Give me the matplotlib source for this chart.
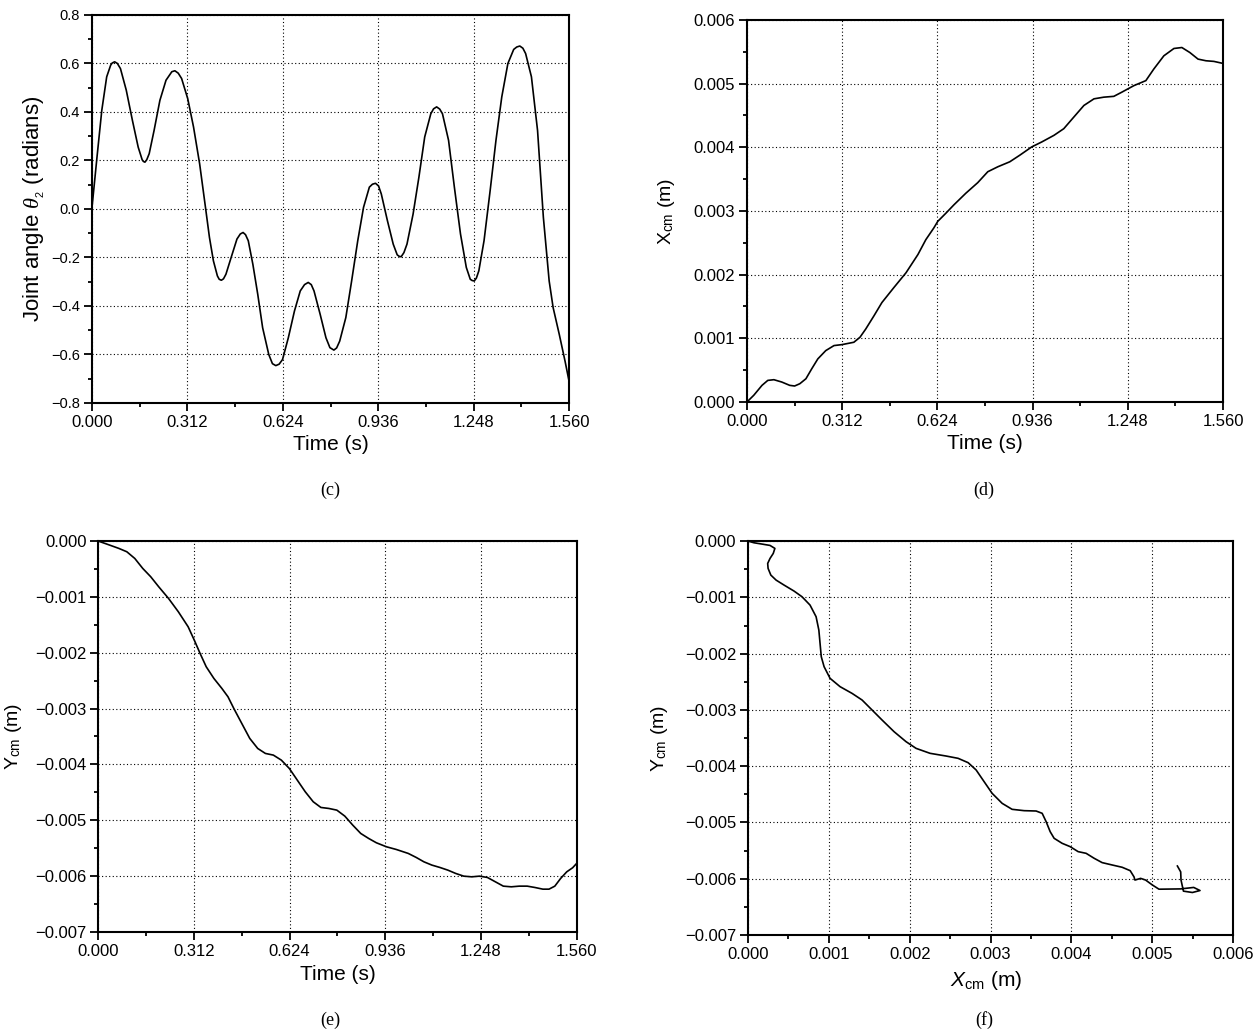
import numpy as np
import matplotlib
matplotlib.use('Agg')
import matplotlib.pyplot as plt
from matplotlib.ticker import MultipleLocator, FuncFormatter

plt.rcParams['font.family'] = ['Liberation Sans', 'DejaVu Sans']
plt.rcParams['mathtext.fontset'] = 'custom'
plt.rcParams['mathtext.rm'] = 'Liberation Sans'
plt.rcParams['mathtext.it'] = 'Liberation Serif:italic'
plt.rcParams['mathtext.sf'] = 'Liberation Sans:italic'

# (c) joint angle theta2 vs time
t_c = [0.000, 0.016, 0.032, 0.048, 0.061, 0.066, 0.074, 0.083, 0.093, 0.112,
       0.132, 0.151, 0.164, 0.168, 0.173, 0.179, 0.187, 0.203, 0.222, 0.242,
       0.261, 0.271, 0.282, 0.293, 0.313, 0.332, 0.352, 0.371, 0.384, 0.397,
       0.410, 0.416, 0.423, 0.430, 0.438, 0.455, 0.474, 0.485, 0.494, 0.502,
       0.511, 0.526, 0.542, 0.558, 0.578, 0.590, 0.601, 0.612, 0.623, 0.642,
       0.662, 0.681, 0.695, 0.707, 0.717, 0.726, 0.746, 0.765, 0.778, 0.791,
       0.800, 0.810, 0.830, 0.849, 0.869, 0.888, 0.907, 0.917, 0.927, 0.937,
       0.946, 0.966, 0.985, 0.998, 1.004, 1.011, 1.020, 1.030, 1.050, 1.069,
       1.088, 1.108, 1.117, 1.127, 1.137, 1.146, 1.166, 1.185, 1.205, 1.224,
       1.237, 1.243, 1.250, 1.257, 1.265, 1.282, 1.302, 1.321, 1.340, 1.360,
       1.379, 1.389, 1.399, 1.409, 1.418, 1.437, 1.457, 1.476, 1.495, 1.508,
       1.528, 1.547, 1.560]
theta_c = [0.007, 0.210, 0.407, 0.545, 0.593, 0.602, 0.607, 0.600, 0.579, 0.490,
           0.366, 0.255, 0.203, 0.196, 0.193, 0.203, 0.228, 0.324, 0.448, 0.531,
           0.566, 0.570, 0.560, 0.538, 0.455, 0.338, 0.186, 0.007, -0.117, -0.214,
           -0.276, -0.290, -0.294, -0.288, -0.269, -0.200, -0.124, -0.103, -0.097, -0.106,
           -0.131, -0.228, -0.352, -0.490, -0.600, -0.638, -0.646, -0.640, -0.621, -0.531,
           -0.421, -0.338, -0.312, -0.303, -0.312, -0.338, -0.434, -0.531, -0.572, -0.582,
           -0.573, -0.545, -0.448, -0.297, -0.131, 0.007, 0.090, 0.102, 0.106, 0.095,
           0.062, -0.048, -0.145, -0.189, -0.195, -0.197, -0.180, -0.145, -0.021, 0.131,
           0.297, 0.393, 0.413, 0.421, 0.412, 0.393, 0.283, 0.090, -0.103, -0.241,
           -0.290, -0.295, -0.297, -0.285, -0.255, -0.131, 0.076, 0.283, 0.462, 0.600,
           0.658, 0.668, 0.672, 0.663, 0.641, 0.545, 0.324, -0.034, -0.297, -0.407,
           -0.517, -0.628, -0.710]

# (d) Xcm vs time (x 1e-3 m)
t_d = [0.000, 0.022, 0.049, 0.068, 0.088, 0.114, 0.140, 0.156, 0.173, 0.193,
       0.212, 0.232, 0.258, 0.285, 0.311, 0.350, 0.370, 0.389, 0.416, 0.442,
       0.481, 0.521, 0.560, 0.586, 0.612, 0.625, 0.652, 0.678, 0.717, 0.756,
       0.789, 0.822, 0.861, 0.894, 0.933, 0.966, 1.006, 1.038, 1.071, 1.104,
       1.137, 1.169, 1.202, 1.228, 1.268, 1.307, 1.333, 1.366, 1.399, 1.425,
       1.451, 1.478, 1.504, 1.530, 1.560]
xcm_d = [0.000, 0.104, 0.260, 0.338, 0.349, 0.312, 0.260, 0.250, 0.286, 0.364,
         0.520, 0.676, 0.806, 0.885, 0.900, 0.937, 1.015, 1.145, 1.353, 1.561,
         1.795, 2.029, 2.315, 2.549, 2.732, 2.836, 2.966, 3.096, 3.278, 3.444,
         3.616, 3.694, 3.772, 3.876, 4.006, 4.084, 4.188, 4.292, 4.475, 4.657,
         4.761, 4.787, 4.800, 4.865, 4.969, 5.047, 5.229, 5.437, 5.552, 5.567,
         5.489, 5.385, 5.359, 5.349, 5.317]

# (e) Ycm vs time (x 1e-3 m)
t_e = [0.000, 0.028, 0.067, 0.093, 0.119, 0.145, 0.171, 0.197, 0.229, 0.261,
       0.293, 0.313, 0.332, 0.352, 0.377, 0.403, 0.423, 0.442, 0.468, 0.494,
       0.520, 0.545, 0.571, 0.597, 0.623, 0.649, 0.675, 0.701, 0.726, 0.752,
       0.778, 0.804, 0.830, 0.856, 0.882, 0.907, 0.940, 0.972, 1.011, 1.037,
       1.062, 1.088, 1.114, 1.140, 1.166, 1.192, 1.218, 1.243, 1.269, 1.295,
       1.321, 1.347, 1.373, 1.399, 1.424, 1.450, 1.470, 1.489, 1.508, 1.528,
       1.547, 1.560]
ycm_e = [0.000, -0.054, -0.131, -0.191, -0.311, -0.490, -0.639, -0.818, -1.027, -1.266,
         -1.535, -1.774, -2.013, -2.252, -2.461, -2.640, -2.790, -2.999, -3.268, -3.536,
         -3.716, -3.805, -3.835, -3.925, -4.074, -4.283, -4.492, -4.671, -4.773, -4.791,
         -4.821, -4.928, -5.090, -5.239, -5.329, -5.406, -5.478, -5.526, -5.597, -5.669,
         -5.747, -5.806, -5.848, -5.896, -5.956, -6.004, -6.016, -6.004, -6.027, -6.105,
         -6.183, -6.195, -6.183, -6.183, -6.207, -6.237, -6.237, -6.183, -6.045, -5.926,
         -5.854, -5.777]

# (f) trajectory Ycm vs Xcm (x 1e-3 m)
xcm_f = [0.000, 0.074, 0.173, 0.272, 0.332, 0.312, 0.272, 0.243, 0.248, 0.282,
         0.347, 0.446, 0.569, 0.668, 0.767, 0.842, 0.876, 0.891, 0.906, 0.941,
         1.015, 1.139, 1.287, 1.411, 1.535, 1.658, 1.807, 1.955, 2.079, 2.252,
         2.450, 2.599, 2.723, 2.822, 2.921, 3.020, 3.144, 3.267, 3.416, 3.564,
         3.639, 3.688, 3.738, 3.787, 3.886, 3.985, 4.084, 4.183, 4.282, 4.381,
         4.505, 4.629, 4.728, 4.775, 4.787, 4.857, 4.919, 5.002, 5.084, 5.105,
         5.353, 5.514, 5.592, 5.498, 5.387, 5.357, 5.353, 5.312]
ycm_f = [0.000, -0.030, -0.053, -0.077, -0.130, -0.219, -0.308, -0.397, -0.485, -0.604,
         -0.693, -0.782, -0.888, -0.989, -1.137, -1.344, -1.581, -1.818, -2.054, -2.232,
         -2.439, -2.587, -2.706, -2.824, -3.002, -3.179, -3.387, -3.564, -3.683, -3.771,
         -3.819, -3.860, -3.937, -4.067, -4.275, -4.482, -4.660, -4.766, -4.790, -4.796,
         -4.837, -4.985, -5.163, -5.281, -5.370, -5.429, -5.518, -5.548, -5.636, -5.713,
         -5.755, -5.796, -5.856, -5.965, -6.023, -5.993, -6.023, -6.110, -6.185, -6.185,
         -6.180, -6.154, -6.209, -6.244, -6.220, -6.023, -5.878, -5.773]

time_ticks = [0.000, 0.312, 0.624, 0.936, 1.248, 1.560]


def fmt(decimals):
    def f(v, pos):
        s = f'{v:.{decimals}f}'
        if float(s) == 0:
            s = s.lstrip('-')
        return s.replace('-', '\u2212')
    return FuncFormatter(f)


fig = plt.figure(figsize=(12.57, 10.34), dpi=100)

rects = [[0.0732, 0.6103, 0.3795, 0.3752],
         [0.5943, 0.6113, 0.3787, 0.3694],
         [0.0782, 0.0989, 0.3805, 0.3778],
         [0.5951, 0.0957, 0.3858, 0.3810]]
axs = [fig.add_axes(r) for r in rects]


def style(ax, ytick_size=12):
    for s in ax.spines.values():
        s.set_linewidth(1.5)
    ax.tick_params(which='both', direction='out', top=False, right=False,
                   width=1.3, labelsize=12, pad=3)
    ax.tick_params(axis='y', labelsize=ytick_size)
    ax.tick_params(which='major', length=5.5)
    ax.tick_params(which='minor', length=3)
    ax.grid(True, which='major', color='black', linestyle=(0, (1, 2.2)), linewidth=0.8)


# (c)
ax = axs[0]
ax.plot(t_c, theta_c, color='black', lw=1.2)
ax.set_xlim(0, 1.56)
ax.set_ylim(-0.8, 0.8)
ax.set_xticks(time_ticks)
ax.xaxis.set_minor_locator(MultipleLocator(0.156))
ax.yaxis.set_major_locator(MultipleLocator(0.2))
ax.yaxis.set_minor_locator(MultipleLocator(0.1))
ax.xaxis.set_major_formatter(fmt(3))
ax.yaxis.set_major_formatter(fmt(1))
style(ax, ytick_size=10.5)
ax.set_xlabel('Time (s)', fontsize=15, va='top')
ax.xaxis.set_label_coords(0.5, -0.082)
ax.set_ylabel(r'Joint angle $\theta_{_2}$ (radians)', fontsize=16)
ax.yaxis.set_label_coords(-0.095, 0.5)

# (d)
ax = axs[1]
ax.plot(t_d, np.array(xcm_d) * 1e-3, color='black', lw=1.2)
ax.set_xlim(0, 1.56)
ax.set_ylim(0, 0.006)
ax.set_xticks(time_ticks)
ax.xaxis.set_minor_locator(MultipleLocator(0.156))
ax.yaxis.set_major_locator(MultipleLocator(0.001))
ax.yaxis.set_minor_locator(MultipleLocator(0.0005))
ax.xaxis.set_major_formatter(fmt(3))
ax.yaxis.set_major_formatter(fmt(3))
style(ax)
ax.set_xlabel('Time (s)', fontsize=15, va='top')
ax.xaxis.set_label_coords(0.5, -0.085)
ax.set_ylabel(r'X$_{\mathrm{cm}}$ (m)', fontsize=14)
ax.yaxis.set_label_coords(-0.148, 0.5)

# (e)
ax = axs[2]
ax.plot(t_e, np.array(ycm_e) * 1e-3, color='black', lw=1.2)
ax.set_xlim(0, 1.56)
ax.set_ylim(-0.007, 0)
ax.set_xticks(time_ticks)
ax.xaxis.set_minor_locator(MultipleLocator(0.156))
ax.yaxis.set_major_locator(MultipleLocator(0.001))
ax.yaxis.set_minor_locator(MultipleLocator(0.0005))
ax.xaxis.set_major_formatter(fmt(3))
ax.yaxis.set_major_formatter(fmt(3))
style(ax)
ax.set_xlabel('Time (s)', fontsize=15, va='top')
ax.xaxis.set_label_coords(0.5, -0.085)
ax.set_ylabel(r'Y$_{\mathrm{cm}}$ (m)', fontsize=14)
ax.yaxis.set_label_coords(-0.155, 0.5)

# (f)
ax = axs[3]
ax.plot(np.array(xcm_f) * 1e-3, np.array(ycm_f) * 1e-3, color='black', lw=1.2)
ax.set_xlim(0, 0.006)
ax.set_ylim(-0.007, 0)
ax.xaxis.set_major_locator(MultipleLocator(0.001))
ax.xaxis.set_minor_locator(MultipleLocator(0.0005))
ax.yaxis.set_major_locator(MultipleLocator(0.001))
ax.yaxis.set_minor_locator(MultipleLocator(0.0005))
ax.xaxis.set_major_formatter(fmt(3))
ax.yaxis.set_major_formatter(fmt(3))
style(ax)
ax.set_xlabel(r'$\mathsf{X}_{\mathrm{cm}}$ (m)', fontsize=15, va='top')
ax.xaxis.set_label_coords(0.49, -0.085)
ax.set_ylabel(r'Y$_{\mathrm{cm}}$ (m)', fontsize=14)
ax.yaxis.set_label_coords(-0.16, 0.5)

# panel captions
for label, x, y in [('(c)', 0.2626, 0.526), ('(d)', 0.783, 0.526),
                    ('(e)', 0.2626, 0.0135), ('(f)', 0.783, 0.0135)]:
    fig.text(x, y, label, ha='center', va='center', fontsize=13,
             family='Liberation Serif')

fig.savefig('out.png', dpi=100)
